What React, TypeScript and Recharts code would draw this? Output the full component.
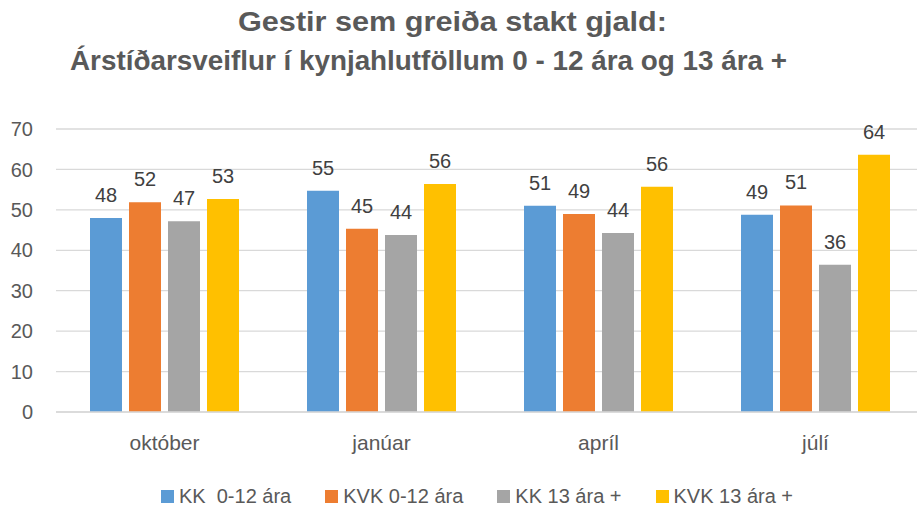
import React from "react"
import { BarChart, Bar, XAxis, YAxis, CartesianGrid, Legend, LabelList } from "recharts"

const months = ["október", "janúar", "apríl", "júlí"]
const kkYoung = [48.0, 54.7, 51.0, 48.8]
const kvkYoung = [51.9, 45.3, 49.0, 51.1]
const kkOld = [47.2, 43.8, 44.3, 36.4]
const kvkOld = [52.7, 56.4, 55.7, 63.6]
const yTicks = [0, 10, 20, 30, 40, 50, 60, 70]
const titleLines = ["Gestir sem greiða stakt gjald:", "Árstíðarsveiflur í kynjahlutföllum 0 - 12 ára og 13 ára +"]

const series = [
  { key: "kkYoung", name: "KK  0-12 ára", color: "#5B9BD5" },
  { key: "kvkYoung", name: "KVK 0-12 ára", color: "#ED7D31" },
  { key: "kkOld", name: "KK 13 ára +", color: "#A5A5A5" },
  { key: "kvkOld", name: "KVK 13 ára +", color: "#FFC000" },
]

const data = months.map((m, i) => ({
  month: m,
  kkYoung: kkYoung[i],
  kvkYoung: kvkYoung[i],
  kkOld: kkOld[i],
  kvkOld: kvkOld[i],
}))

const font = "'Liberation Sans', Arial, sans-serif"
const textGray = "#595959"

const LegendBox = () => (
  <div style={{ display: "flex", justifyContent: "center", gap: 34, fontFamily: font, fontSize: 20, color: textGray, paddingLeft: 30, paddingTop: 5, height: 30, alignItems: "center", boxSizing: "border-box" }}>
    {series.map((s) => (
      <div key={s.key} style={{ display: "flex", alignItems: "center", whiteSpace: "pre" }}>
        <span style={{ width: 13, height: 13, background: s.color, display: "inline-block", marginRight: 5 }} />
        {s.name}
      </div>
    ))}
  </div>
)

export default function App() {
  return (
    <div style={{ position: "absolute", left: 0, top: 0, width: 917, height: 509, overflow: "hidden", background: "#fff" }}>
      <BarChart
        width={924}
        height={509}
        data={data}
        margin={{ top: 129, right: 0, left: 0, bottom: 0 }}
        barSize={32}
        barGap={7}
        style={{ position: "absolute", left: 0, top: 0 }}
      >
        <CartesianGrid vertical={false} stroke="#D9D9D9" strokeWidth={1.3} />
        <XAxis
          dataKey="month"
          axisLine={{ stroke: "#D9D9D9", strokeWidth: 1.3 }}
          tickLine={false}
          tickSize={0}
          tickMargin={23}
          height={67}
          tick={{ fill: textGray, fontSize: 21, fontFamily: font }}
        />
        <YAxis
          domain={[0, 70]}
          ticks={yTicks}
          axisLine={false}
          tickLine={false}
          tickSize={0}
          tickMargin={23}
          width={56}
          tick={{ fill: textGray, fontSize: 20, fontFamily: font }}
        />
        <Legend verticalAlign="bottom" height={30} content={<LegendBox />} />
        {series.map((s) => (
          <Bar key={s.key} dataKey={s.key} name={s.name} fill={s.color} isAnimationActive={false}>
            <LabelList
              dataKey={s.key}
              position="top"
              offset={16}
              formatter={(v: any) => Math.round(v)}
              style={{ fill: "#404040", fontSize: 20, fontFamily: font }}
            />
          </Bar>
        ))}
      </BarChart>
      <svg width={917} height={90} style={{ position: "absolute", left: 0, top: 0 }}>
        <text x={452.5} y={31} textAnchor="middle" textLength={429} lengthAdjust="spacingAndGlyphs" fontFamily={font} fontWeight="bold" fontSize={27} fill={textGray}>
          {titleLines[0]}
        </text>
        <text x={428.5} y={70} textAnchor="middle" textLength={717} lengthAdjust="spacingAndGlyphs" fontFamily={font} fontWeight="bold" fontSize={27} fill={textGray}>
          {titleLines[1]}
        </text>
      </svg>
    </div>
  )
}
